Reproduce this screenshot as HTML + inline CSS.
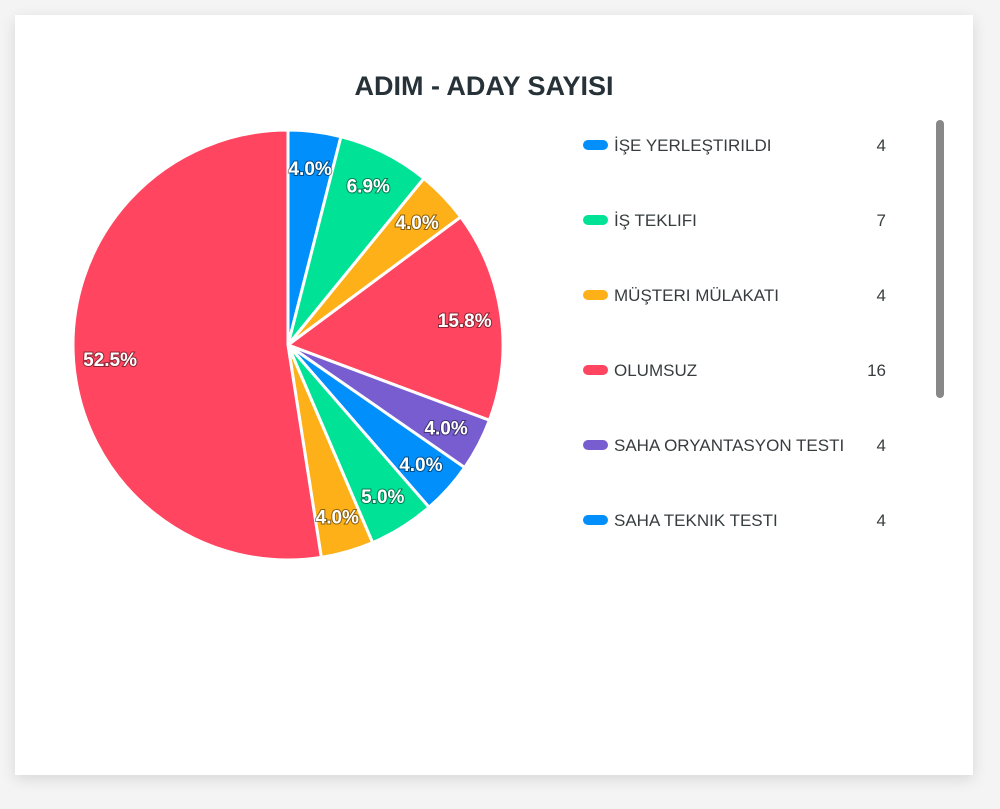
<!DOCTYPE html>
<html><head><meta charset="utf-8">
<style>
body{margin:0;width:1000px;height:809px;background:#f4f4f4;font-family:"Liberation Sans",sans-serif;overflow:hidden}
.card{position:absolute;left:15px;top:15px;width:958px;height:760px;background:#fff;box-shadow:0 4px 14px rgba(0,0,0,0.12)}
</style></head><body>
<div class="card"></div>
<svg id="c" width="1000" height="809" style="position:absolute;left:0;top:0">
<text x="484" y="95" text-anchor="middle" font-size="27" font-weight="bold" fill="#263238">ADIM - ADAY SAYISI</text>
<rect x="936" y="120" width="8" height="278" rx="4" fill="#888"/>
</svg>
<script>
const categories=["İŞE YERLEŞTIRILDI","İŞ TEKLIFI","MÜŞTERI MÜLAKATI","OLUMSUZ","SAHA ORYANTASYON TESTI","SAHA TEKNIK TESTI","SAHA TEST 2","SAHA TEST 3","DIĞER"];
const values=[4,7,4,16,4,4,5,4,53];
const colors=["#008FFB","#00E396","#FEB019","#FF4560","#775DD0","#008FFB","#00E396","#FEB019","#FF4560"];
const svg=document.getElementById('c');const NS="http://www.w3.org/2000/svg";
const cx=288,cy=345,r=215;
const total=values.reduce((a,b)=>a+b,0);
let a0=-Math.PI/2;
function pt(a,rr){return [cx+rr*Math.cos(a),cy+rr*Math.sin(a)];}
const labels=[];
values.forEach((v,i)=>{
 const a1=a0+v/total*2*Math.PI;
 const p0=pt(a0,r),p1=pt(a1,r);
 const large=(a1-a0)>Math.PI?1:0;
 const p=document.createElementNS(NS,'path');
 p.setAttribute('d',`M${cx},${cy}L${p0[0]},${p0[1]}A${r},${r} 0 ${large} 1 ${p1[0]},${p1[1]}Z`);
 p.setAttribute('fill',colors[i]);p.setAttribute('stroke','#fff');p.setAttribute('stroke-width','3');
 
 
 svg.appendChild(p);
 const m=(a0+a1)/2;const lp=pt(m,r*0.83);
 labels.push([lp,(v/total*100).toFixed(1)+'%',i]);
 a0=a1;
});
labels.forEach(([lp,txt,i])=>{
 const t=document.createElementNS(NS,'text');
 t.setAttribute('x',lp[0]);t.setAttribute('y',lp[1]+7);t.setAttribute('text-anchor','middle');
 t.setAttribute('font-size','19');t.setAttribute('font-weight','bold');t.setAttribute('fill','#fff');
 t.setAttribute('style','paint-order:stroke;stroke:rgba(0,0,0,0.45);stroke-width:2px');
 t.textContent=txt;
 
 
 svg.appendChild(t);
});
for(let i=0;i<6;i++){
 const y=145+i*75;
 const s=document.createElementNS(NS,'rect');
 s.setAttribute('x',583);s.setAttribute('y',y-5);s.setAttribute('width',25);s.setAttribute('height',10);s.setAttribute('rx',5);s.setAttribute('fill',colors[i]);
 
 
 svg.appendChild(s);
 const t=document.createElementNS(NS,'text');
 t.setAttribute('x',614);t.setAttribute('y',y+6);t.setAttribute('font-size','17');t.setAttribute('fill','#373d3f');
 t.textContent=categories[i];
 
 
 svg.appendChild(t);
 const n=document.createElementNS(NS,'text');
 n.setAttribute('x',886);n.setAttribute('y',y+6);n.setAttribute('font-size','17');n.setAttribute('fill','#373d3f');n.setAttribute('text-anchor','end');
 n.textContent=values[i];
 
 
 svg.appendChild(n);
}
</script>
</body></html>
